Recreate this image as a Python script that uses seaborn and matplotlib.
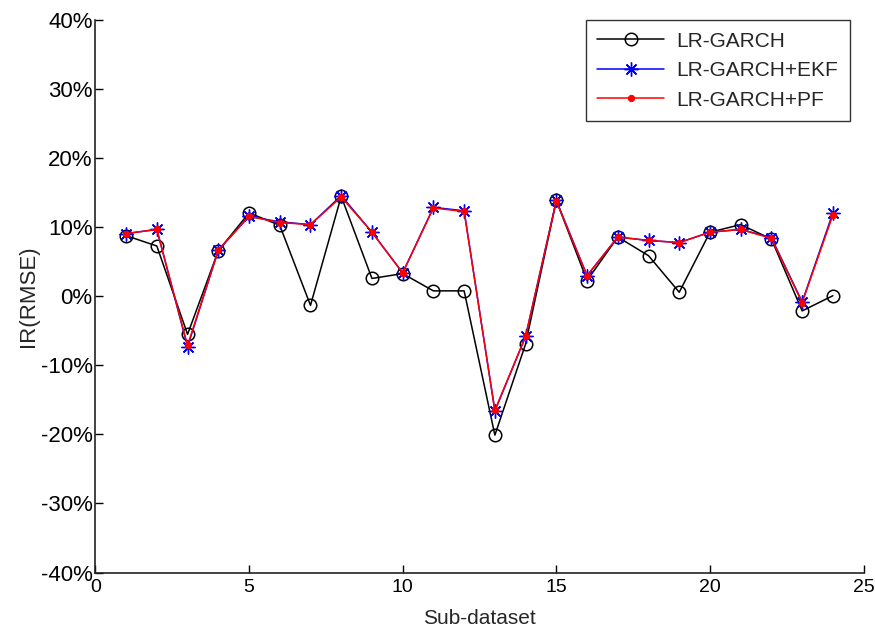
import numpy as np
import pandas as pd
import seaborn as sns
import matplotlib.pyplot as plt
from matplotlib.ticker import PercentFormatter

sub_dataset = list(range(1, 25))

lr_garch = [8.8, 7.3, -5.5, 6.6, 12.1, 10.3, -1.3, 14.5, 2.6, 3.3, 0.8, 0.8,
            -20.1, -6.9, 13.9, 2.3, 8.6, 5.9, 0.6, 9.3, 10.4, 8.3, -2.1, 0.1]
lr_garch_ekf = [9.1, 9.7, -7.3, 6.7, 11.6, 10.8, 10.4, 14.6, 9.3, 3.4, 12.9, 12.4,
                -16.6, -5.8, 13.9, 3.0, 8.6, 8.1, 7.8, 9.3, 9.7, 8.5, -0.8, 12.1]
lr_garch_pf = [9.1, 9.7, -7.1, 6.7, 11.6, 10.7, 10.4, 14.4, 9.3, 3.4, 12.8, 12.3,
               -16.5, -5.8, 13.8, 3.0, 8.6, 8.1, 7.8, 9.3, 9.7, 8.4, -0.9, 11.8]

sns.set_style("white")
plt.rcParams['font.family'] = ['Liberation Sans', 'DejaVu Sans']
plt.rcParams['axes.unicode_minus'] = False

fig = plt.figure(figsize=(8.75, 6.34), dpi=100)
ax = fig.add_axes([0.109, 0.097, 0.878, 0.871])

sns.lineplot(x=sub_dataset, y=lr_garch, ax=ax, color='black', lw=1.1,
             marker='o', markersize=9, markerfacecolor='none',
             markeredgecolor='black', markeredgewidth=1.1, label='LR-GARCH')
sns.lineplot(x=sub_dataset, y=lr_garch_ekf, ax=ax, color='blue', lw=1.1,
             marker=(8, 2, 0), markersize=10, markeredgecolor='blue',
             markeredgewidth=1.0, label='LR-GARCH+EKF')
sns.lineplot(x=sub_dataset, y=lr_garch_pf, ax=ax, color='red', lw=1.1,
             marker='o', markersize=4.5, markerfacecolor='red',
             markeredgecolor='red', label='LR-GARCH+PF')

ax.set_xlim(0, 25)
ax.set_ylim(-40, 40)
ax.set_xticks([0, 5, 10, 15, 20, 25])
ax.set_yticks(np.arange(-40, 41, 10))
ax.yaxis.set_major_formatter(PercentFormatter(decimals=0))

for side in ['top', 'right']:
    ax.spines[side].set_visible(False)
for side in ['left', 'bottom']:
    ax.spines[side].set_color('#222222')
    ax.spines[side].set_linewidth(1.2)

ax.tick_params(direction='in', length=6, width=1, colors='black',
               labelsize=16, left=True, bottom=True, pad=2)
ax.tick_params(axis='x', labelsize=14, pad=5)

ax.set_xlabel('Sub-dataset', fontsize=15, labelpad=9)
ax.set_ylabel('IR(RMSE)', fontsize=16, labelpad=1)

leg = ax.legend(loc='upper right', bbox_to_anchor=(0.982, 1.0), fontsize=15,
                frameon=True, fancybox=False, edgecolor='black',
                borderaxespad=0.0, handlelength=3.2, borderpad=0.55,
                labelspacing=0.5, handletextpad=0.6)
leg.get_frame().set_linewidth(1.0)

fig.savefig('out.png', dpi=100, facecolor='white')
